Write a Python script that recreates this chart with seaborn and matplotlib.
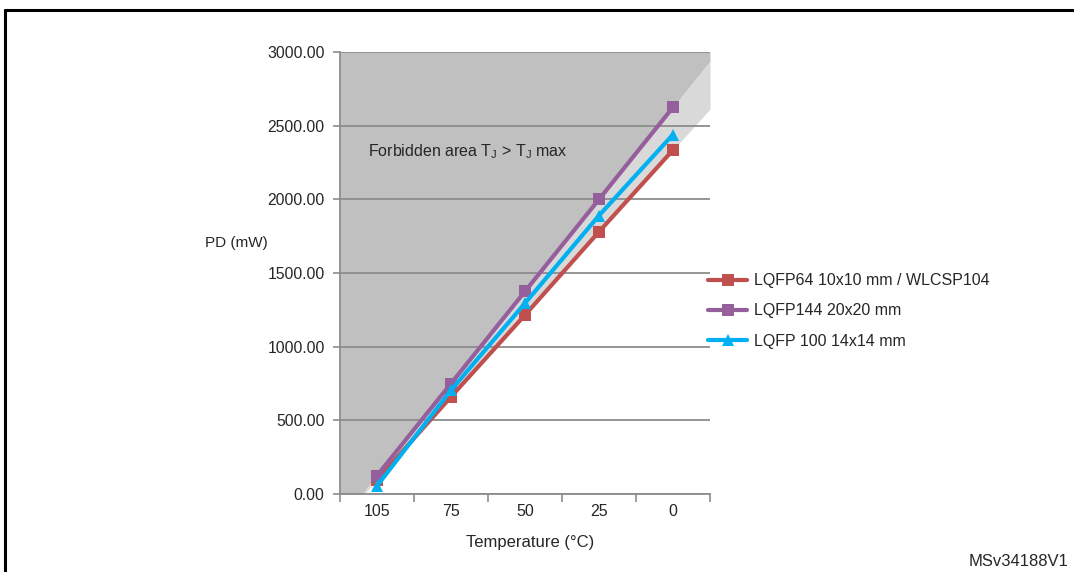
import numpy as np
import pandas as pd
import matplotlib
matplotlib.use("Agg")
import matplotlib.pyplot as plt
from matplotlib.lines import Line2D
import seaborn as sns

# ---- data ----
temperatures = ["105", "75", "50", "25", "0"]
lqfp64 = [95, 660, 1215, 1780, 2335]
lqfp144 = [125, 750, 1375, 2000, 2625]
lqfp100 = [55, 705, 1295, 1890, 2440]
series_names = ["LQFP64 10x10 mm / WLCSP104", "LQFP144 20x20 mm", "LQFP 100 14x14 mm"]
y_ticks = [0, 500, 1000, 1500, 2000, 2500, 3000]

colors = ["#C0504D", "#955F9C", "#00B0F0"]
markers = ["s", "s", "^"]

sns.set_theme(style="white")
plt.rcParams["font.family"] = ["Liberation Sans", "DejaVu Sans"]

W, H = 1074, 572
fig = plt.figure(figsize=(W / 100, H / 100), dpi=100)
ax = fig.add_axes([340 / W, 1 - 494 / H, 370 / W, 442 / H])

xpos = np.arange(len(temperatures))
ymax = y_ticks[-1]

# forbidden area shading, extended from the LQFP144 / LQFP64 lines to the plot edges
def extend(vals):
    v = np.asarray(vals, dtype=float)
    left = v[0] - 0.5 * (v[1] - v[0])
    right = v[-1] + 0.5 * (v[-1] - v[-2])
    return np.concatenate([[left], v, [right]])

xe = np.concatenate([[-0.5], xpos, [len(xpos) - 0.5]])
top_line = extend(lqfp144)
bot_line = extend(lqfp64)
ax.fill_between(xe, top_line, ymax, color="#C0C0C0", lw=0, zorder=0)
ax.fill_between(xe, bot_line, top_line, color="#D9D9D9", lw=0, zorder=0)

df = pd.DataFrame({
    "x": np.tile(xpos, 3),
    "PD": lqfp64 + lqfp144 + lqfp100,
    "series": np.repeat(series_names, len(xpos)),
})
for name, c, m in zip(series_names, colors, markers):
    sub = df[df.series == name]
    sns.lineplot(data=sub, x="x", y="PD", ax=ax, color=c, lw=3.0,
                 marker=m, markersize=9, markeredgewidth=0, zorder=3,
                 legend=False)

ax.set_xlim(-0.5, len(xpos) - 0.5)
ax.set_ylim(0, ymax)
ax.set_yticks(y_ticks)
ax.set_yticklabels([f"{v:.2f}" for v in y_ticks])
ax.yaxis.grid(True, color="#8C8C8C", lw=1.3, zorder=1)
ax.set_axisbelow(False)
for ln in ax.get_ygridlines():
    ln.set_zorder(1)

# x ticks at category boundaries, labels at centres
ax.set_xticks(np.arange(-0.5, len(xpos), 1.0))
ax.set_xticklabels([])
ax.set_xticks(xpos, minor=True)
ax.set_xticklabels(temperatures, minor=True)
ax.tick_params(axis="x", which="major", length=6, width=1.2, color="#8C8C8C",
               direction="out", bottom=True)
ax.tick_params(axis="x", which="minor", length=0, pad=7, labelsize=11.5)
ax.tick_params(axis="y", length=5, width=1.2, color="#8C8C8C", direction="out",
               left=True, pad=6, labelsize=11.3)

for s in ["top", "right"]:
    ax.spines[s].set_visible(False)
for s in ["left", "bottom"]:
    ax.spines[s].set_color("#8C8C8C")
    ax.spines[s].set_linewidth(1.3)
    ax.spines[s].set_zorder(2)

ax.set_xlabel("")
ax.set_ylabel("")

fig.text(530 / W, 1 - 542 / H, "Temperature (°C)", ha="center", va="center", fontsize=12)
fig.text(205 / W, 1 - 243 / H, "PD (mW)", ha="left", va="center", fontsize=11)
fig.text(368 / W, 1 - 152 / H,
         r"Forbidden area T$_\mathregular{J}$ > T$_\mathregular{J}$ max",
         ha="left", va="center", fontsize=11.5)
fig.text(1068 / W, 1 - 562 / H, "MSv34188V1", ha="right", va="center", fontsize=12)

handles = [Line2D([], [], color=c, lw=3.0, marker=m, markersize=9, markeredgewidth=0)
           for c, m in zip(colors, markers)]
fig.legend(handles, series_names, loc="center left",
           bbox_to_anchor=(694 / W, 1 - 311 / H), frameon=False,
           fontsize=11.5, handlelength=2.4, labelspacing=0.95, handletextpad=0.45)

# outer frame (top and left edges)
fig.add_artist(Line2D([5 / W, 1.0], [1 - 10 / H, 1 - 10 / H], color="black", lw=2.2))
fig.add_artist(Line2D([5 / W, 5 / W], [1 - 10 / H, 0.0], color="black", lw=2.2))

fig.savefig("out.png", dpi=100)
